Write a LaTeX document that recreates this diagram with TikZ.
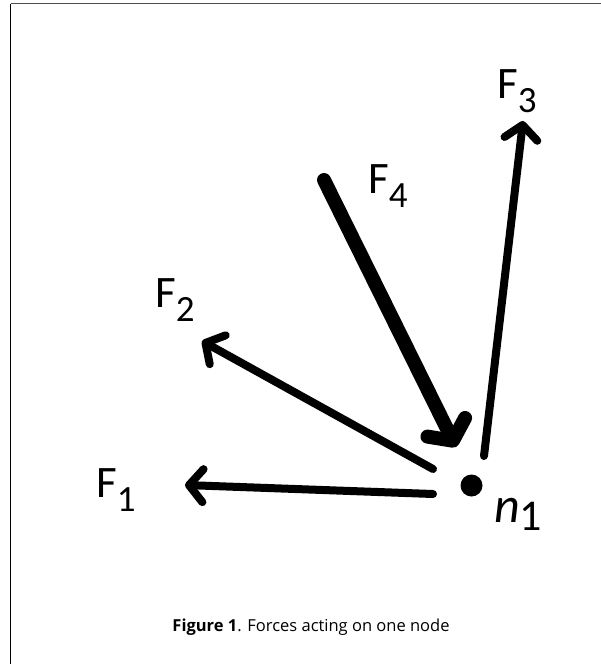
\documentclass[tikz,border=0pt]{standalone}
\usepackage{fontspec}
\setmainfont{Carlito}
\newfontfamily\capfont{Open Sans}
\usetikzlibrary{arrows.meta}
\newcommand{\flab}[2]{\fontsize{45}{45}\selectfont #1\raisebox{-14pt}{\fontsize{37}{37}\selectfont #2}}
\tikzset{
  force/.style={line width=8pt, line cap=round, -{Straight Barb[length=14pt,width=33pt,round]}},
  bigforce/.style={line width=14pt, line cap=round, -{Straight Barb[length=15pt,width=42pt,round]}},
  lab/.style={inner sep=0pt, anchor=base west}
}
\begin{document}
\begin{tikzpicture}[x=1pt,y=-1pt]
\useasboundingbox (0,0) rectangle (601,664);
\draw[line width=1.5pt, black!70] (601,3.5) -- (10.5,3.5);
\draw[line width=1.5pt] (10.5,3.5) -- (10.5,664);
% the node
\node (n1) at (471.5,485.5)[circle, fill, inner sep=0pt, minimum size=22pt]{};
\node[lab] (n1lab) at (494,522){\fontsize{50}{50}\selectfont\itshape n\raisebox{-8pt}{\upshape\fontsize{44}{44}\selectfont 1}};
% ends of the forces
\coordinate (a1) at (433,494);
\coordinate (b1) at (185,485);
\coordinate (a2) at (433,469);
\coordinate (b2) at (202,341);
\coordinate (a3) at (484,456);
\coordinate (b3) at (523,121);
\coordinate (a4) at (324,180);
\coordinate (b4) at (456,447);
\draw[force] (a1) -- (b1);
\draw[force] (a2) -- (b2);
\draw[force] (a3) -- (b3);
\draw[bigforce] (a4) -- (b4);
\node[lab] (f1) at (96,497){\flab{F}{1}};
\node[lab] (f2) at (155,307){\flab{F}{2}};
\node[lab] (f3) at (497,98){\flab{F}{3}};
\node[lab] (f4) at (368,193){\flab{F}{4}};
\node (cap) at (311,627){\capfont\fontsize{16.5}{16.5}\selectfont\textbf{Figure 1}. Forces acting on one node};
\end{tikzpicture}
\end{document}
